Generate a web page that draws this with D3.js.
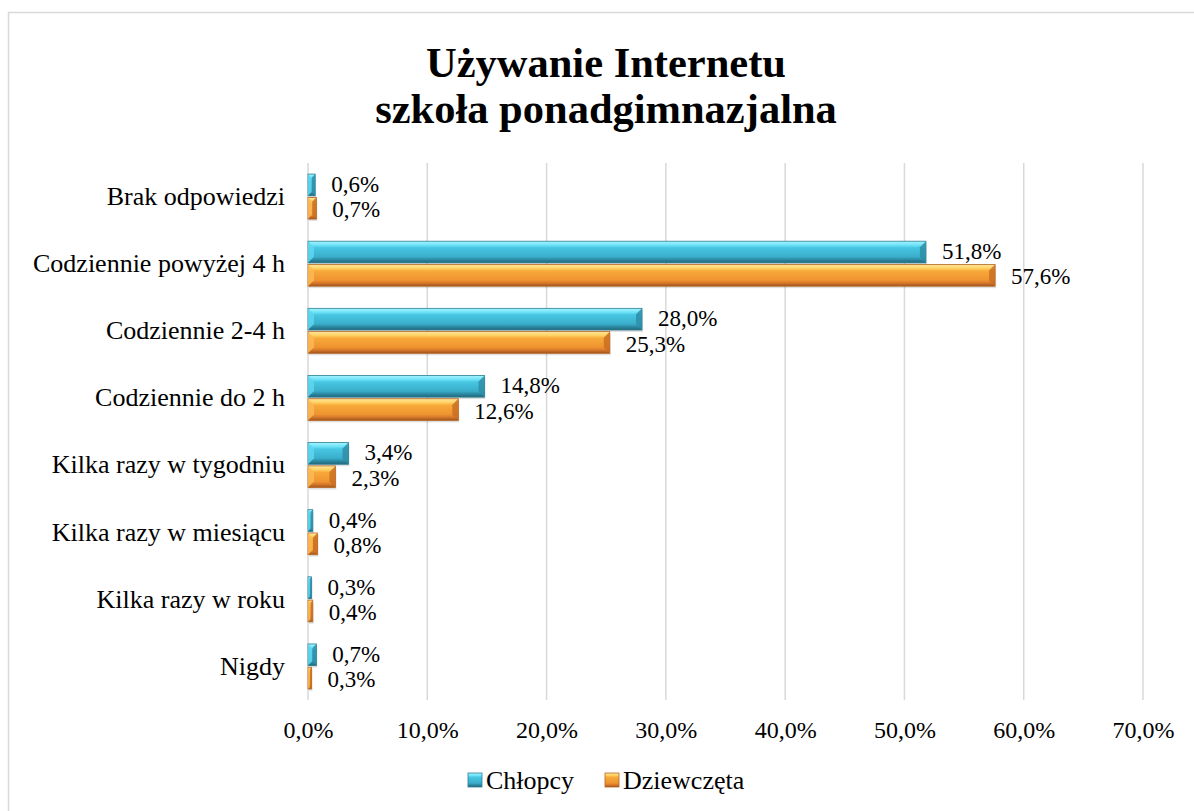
<!DOCTYPE html>
<html>
<head>
<meta charset="utf-8">
<script src="https://cdn.jsdelivr.net/npm/d3@7"></script>
<style>
  body { margin: 0; background: #fff; }
  text { font-family: "Liberation Serif", "Times New Roman", serif; fill: #000; }
</style>
</head>
<body>
<div id="chart"></div>
<script>
// Chart data
var categories = ["Brak odpowiedzi", "Codziennie powyżej 4 h", "Codziennie 2-4 h", "Codziennie do 2 h",
                  "Kilka razy w tygodniu", "Kilka razy w miesiącu", "Kilka razy w roku", "Nigdy"];
var seriesNames = ["Chłopcy", "Dziewczęta"];
var chlopcy = [0.6, 51.8, 28.0, 14.8, 3.4, 0.4, 0.3, 0.7];
var dziewczeta = [0.7, 57.6, 25.3, 12.6, 2.3, 0.8, 0.4, 0.3];
var ticks = [0, 10, 20, 30, 40, 50, 60, 70];
var titleLines = ["Używanie Internetu", "szkoła ponadgimnazjalna"];

var w = 1194, h = 811;
var serif = "'Liberation Serif', 'Times New Roman', serif";

var svg = d3.select("#chart").append("svg")
  .attr("width", w).attr("height", h);

// gradients for the bevelled bars
var defs = svg.append("defs");
var palettes = [
  { id: "gBlue", stops: [["0%", "#a6f4ff"], ["18%", "#6fe3f8"], ["30%", "#47c6e2"], ["72%", "#3aaecb"], ["85%", "#2c8aa3"], ["100%", "#22667a"]] },
  { id: "gOrange", stops: [["0%", "#ffe9a0"], ["18%", "#ffd060"], ["30%", "#f7a93a"], ["72%", "#ef9430"], ["85%", "#d7782a"], ["100%", "#9e5520"]] }
];
palettes.forEach(function(p) {
  var g = defs.append("linearGradient").attr("id", p.id)
    .attr("x1", 0).attr("y1", 0).attr("x2", 0).attr("y2", 1);
  p.stops.forEach(function(s) {
    g.append("stop").attr("offset", s[0]).attr("stop-color", s[1]);
  });
});
var edgeColors = ["#2a7d93", "#b8651f"];
var capColors = ["#2f8ea8", "#c96e22"];
var leftCap = ["#5fd6ef", "#fbb955"];

// chart border
svg.append("rect")
  .attr("x", 8.5).attr("y", 12.5).attr("width", w + 10).attr("height", h + 10)
  .attr("fill", "none").attr("stroke", "#d9d9d9").attr("stroke-width", 1.5);

// title
svg.selectAll(".title").data(titleLines).enter().append("text")
  .attr("x", 606).attr("y", function(d, i) { return 77 + i * 46; })
  .attr("text-anchor", "middle")
  .style("font-family", serif)
  .style("font-size", "42.5px").style("font-weight", "bold")
  .text(function(d) { return d; });

// scales
var x = d3.scaleLinear().domain([0, 70]).range([308, 1143]);
var y = d3.scaleBand().domain(categories).range([163, 700]).paddingInner(0.33).paddingOuter(0.165);
var sub = d3.scaleBand().domain([0, 1]).range([0, y.bandwidth()]).paddingInner(0.07);

// gridlines
svg.append("g").selectAll("line").data(ticks).enter().append("line")
  .attr("x1", function(d) { return x(d); }).attr("x2", function(d) { return x(d); })
  .attr("y1", 163).attr("y2", 700)
  .attr("stroke", "#d9d9d9").attr("stroke-width", 1.5);

// x axis labels
var xAxis = d3.axisBottom(x).tickValues(ticks).tickSize(0).tickPadding(0)
  .tickFormat(function(d) { return d.toFixed(1).replace(".", ",") + "%"; });
var xg = svg.append("g").attr("transform", "translate(0,730)").call(xAxis);
xg.select(".domain").remove();
xg.attr("font-family", null);
xg.selectAll("text").style("font-size", "24px").style("font-family", serif).attr("y", 0).attr("dy", "0.35em");

// y axis labels
var yAxis = d3.axisLeft(y).tickSize(0).tickPadding(0);
var yg = svg.append("g").attr("transform", "translate(285,0)").call(yAxis);
yg.select(".domain").remove();
yg.attr("font-family", null);
yg.selectAll("text").style("font-size", "26px").style("font-family", serif);

// bars
var series = [chlopcy, dziewczeta];
series.forEach(function(vals, si) {
  var g = svg.append("g");
  var bh = sub.bandwidth();
  var rows = g.selectAll("g").data(categories).enter().append("g")
    .attr("transform", function(d) { return "translate(0," + (y(d) + sub(si)) + ")"; });

  // shadow
  rows.append("rect")
    .attr("x", x(0) + 1).attr("y", 2)
    .attr("width", function(d, i) { return x(vals[i]) - x(0); })
    .attr("height", bh)
    .attr("fill", "#000").attr("opacity", 0.12);

  rows.append("rect")
    .attr("x", x(0)).attr("y", 0)
    .attr("width", function(d, i) { return x(vals[i]) - x(0); })
    .attr("height", bh)
    .attr("fill", "url(#" + palettes[si].id + ")")
    .attr("stroke", edgeColors[si]).attr("stroke-width", 0.8);

  // bevel caps at the ends
  var bev = Math.min(6, bh / 2);
  rows.append("path")
    .attr("d", function(d, i) {
      var x0 = x(0), x1 = x(vals[i]);
      var b = Math.min(bev, (x1 - x0) / 2);
      return "M" + x1 + ",0L" + (x1 - b) + "," + b + "L" + (x1 - b) + "," + (bh - b) + "L" + x1 + "," + bh + "Z";
    })
    .attr("fill", capColors[si]).attr("opacity", 0.85);
  rows.append("path")
    .attr("d", function(d, i) {
      var x0 = x(0), x1 = x(vals[i]);
      var b = Math.min(bev, (x1 - x0) / 2);
      return "M" + x0 + ",0L" + (x0 + b) + "," + b + "L" + (x0 + b) + "," + (bh - b) + "L" + x0 + "," + bh + "Z";
    })
    .attr("fill", leftCap[si]).attr("opacity", 0.85);

  // value labels
  rows.append("text")
    .attr("x", function(d, i) { return x(vals[i]) + 16; })
    .attr("y", bh / 2 + (si === 0 ? -1 : 1)).attr("dy", "0.35em")
    .style("font-family", serif)
    .style("font-size", "23px")
    .text(function(d, i) { return vals[i].toFixed(1).replace(".", ",") + "%"; });
});

// legend
var legend = svg.append("g").attr("transform", "translate(0,780)");
var legX = [468, 605];
seriesNames.forEach(function(name, i) {
  var lg = legend.append("g").attr("transform", "translate(" + legX[i] + ",0)");
  lg.append("rect").attr("x", 0).attr("y", -7).attr("width", 14).attr("height", 14)
    .attr("fill", "url(#" + palettes[i].id + ")").attr("stroke", edgeColors[i]).attr("stroke-width", 0.8);
  lg.append("text").attr("x", 18).attr("y", 0).attr("dy", "0.35em")
    .style("font-family", serif)
    .style("font-size", "26px").text(name);
});
</script>
</body>
</html>
